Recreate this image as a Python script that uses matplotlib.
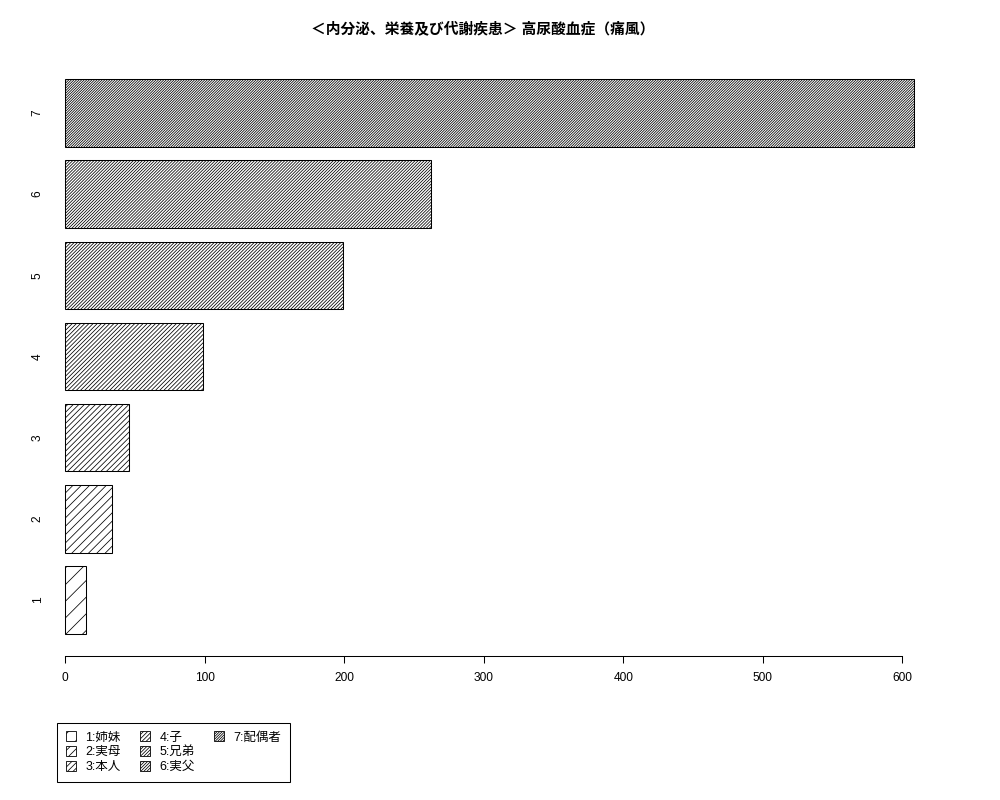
import matplotlib.pyplot as plt
import matplotlib.patches as mpatches
import numpy as np

plt.rcParams['font.family'] = ['Liberation Sans', 'Noto Sans CJK JP', 'DejaVu Sans']
plt.rcParams['hatch.linewidth'] = 0.55
plt.rcParams['hatch.color'] = 'black'

# data
categories = ['1', '2', '3', '4', '5', '6', '7']
values = [15, 34, 46, 99, 199, 262, 608]
legend_labels = ['1:姉妹', '2:実母', '3:本人', '4:子', '5:兄弟', '6:実父', '7:配偶者']
hatches = ['//', '////', '//////', '////////', '//////////', '///////////', '/////////////']
title = '＜内分泌、栄養及び代謝疾患＞ 高尿酸血症（痛風）'
xticks = [0, 100, 200, 300, 400, 500, 600]

# figure dimensions
png_width = 1000
png_height = 800
png_dpi = 100

fig = plt.figure(figsize=(png_width / png_dpi, png_height / png_dpi), dpi=png_dpi)
ax = fig.add_axes([59 / png_width, 1 - 656 / png_height,
                   (947 - 59) / png_width, (656 - 57) / png_height])

# R barplot style positions: width 1, space 0.2
pos = 0.7 + 1.2 * np.arange(len(values))
bars = ax.barh(pos, values, height=1, color='white', edgecolor='black', linewidth=0.75)
for b, h in zip(bars, hatches):
    b.set_hatch(h)

ax.set_xlim(-4.3, 632)
ax.set_ylim(-0.128, 8.728)

for s in ['top', 'right', 'left']:
    ax.spines[s].set_visible(False)
ax.spines['bottom'].set_bounds(0, 600)
ax.spines['bottom'].set_linewidth(0.75)

ax.set_xticks(xticks)
ax.set_xticklabels([str(t) for t in xticks])
ax.tick_params(axis='x', direction='out', length=5.2, width=0.75, pad=6, labelsize=8.6)

ax.set_yticks(pos)
ax.set_yticklabels(categories, rotation=90, va='center')
ax.tick_params(axis='y', length=0, pad=11, labelsize=8.6)

fig.text(0.483, 1 - 29 / png_height, title, ha='center', va='center',
         fontsize=10.6, fontweight='bold')

# legend: 3 rows, filled column by column (two blank slots after 7)
handles = [mpatches.Patch(facecolor='white', edgecolor='black', linewidth=0.6, hatch=h)
           for h in hatches]
labels = list(legend_labels)
for _ in range(2):
    handles.append(mpatches.Patch(visible=False))
    labels.append('')
leg = fig.legend(handles, labels, loc='lower left',
                 bbox_to_anchor=(57 / png_width, 1 - 782 / png_height),
                 ncol=3, fontsize=9.0, fancybox=False, framealpha=1,
                 edgecolor='black', borderaxespad=0, borderpad=0.7,
                 labelspacing=0.22, handlelength=0.8, handleheight=0.8,
                 handletextpad=0.75, columnspacing=1.55)
leg.get_frame().set_linewidth(0.75)

plt.savefig('out.png', dpi=png_dpi)
